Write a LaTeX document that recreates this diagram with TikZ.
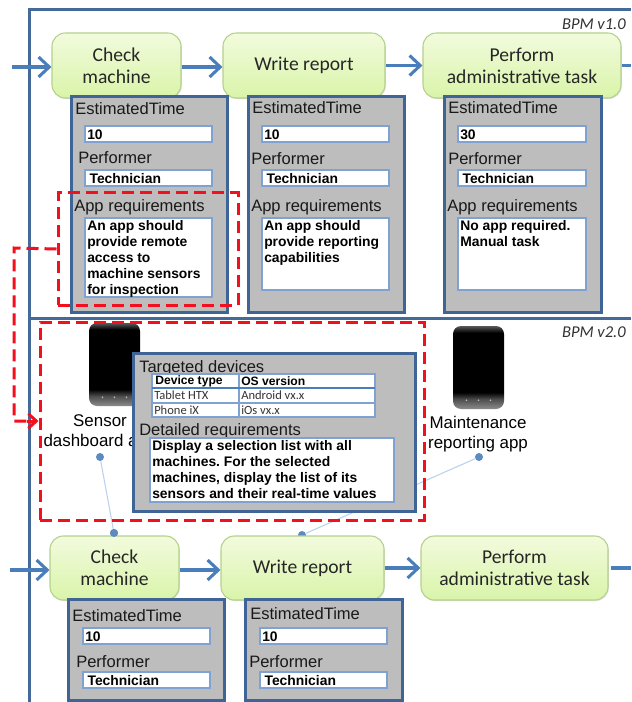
\documentclass[tikz,border=0pt]{standalone}
\usepackage{fontspec}
\setmainfont{Liberation Sans}
\newfontfamily\carl{Carlito}
\usetikzlibrary{arrows.meta,shadows}
\definecolor{flowblue}{HTML}{4A7EBB}
\definecolor{frameblue}{HTML}{446A99}
\definecolor{panelblue}{HTML}{3E6595}
\definecolor{fieldblue}{HTML}{7FA2D2}
\definecolor{panelgrey}{HTML}{BDBDBD}
\definecolor{greenline}{HTML}{B4D08C}
\definecolor{greentop}{HTML}{F2FBDD}
\definecolor{greenbot}{HTML}{D9F4A9}
\definecolor{dashred}{HTML}{F40F1E}
\definecolor{tiltblue}{HTML}{BCD2EC}
\pgfdeclareverticalshading{phonesh}{100bp}{color(0bp)=(black!45);color(25bp)=(black!45);color(31bp)=(black!70);color(35bp)=(black);color(71bp)=(black);color(75bp)=(black!65);color(100bp)=(black!65)}
\newcommand\bx[7]{%
  \pgfmathsetmacro\bxw{(#5-#3)*0.75}%
  \pgfmathsetmacro\bxh{(#6-#4)*0.75}%
  \node[#1,minimum width=\bxw pt,minimum height=\bxh pt] (#2) at ({(#3+#5)/2},{-(#4+#6)/2}) {#7};}
\newcommand\lbl[4]{\node[paneltext,anchor=base west] (#1) at (#2,-#3) {#4};}
\newcommand\val[3]{\node[fieldtext,anchor=west] (#1) at ([xshift=1.5pt,yshift=-0.5pt]#2.west) {#3};}
\newcommand\phone[3]{%
  \bx{phonebody}{#1}{#2}{#3}{#2+51}{#3+83}{}
  \foreach \k in {-12,0,12} {\fill[white!75!black] ([xshift=\k*0.75pt,yshift=9*0.75pt]#1.south) circle (0.7pt);}}
\tikzset{
  x=0.75pt,y=0.75pt,
  frameline/.style={frameblue,line width=2.25pt},
  flow/.style={flowblue,line width=2.5pt,-{Straight Barb[length=8pt,width=15pt,line width=2.3pt]}},
  stub/.style={flowblue,line width=2.5pt},
  task/.style={draw=greenline,line width=0.8pt,rounded corners=10pt,top color=greentop,bottom color=greenbot,
    inner sep=0pt,align=center,font=\carl\fontsize{14.7}{16.5}\selectfont,text=black!85,
    drop shadow={opacity=0.25,shadow xshift=0.6pt,shadow yshift=-0.8pt}},
  panel/.style={draw=panelblue,fill=panelgrey,line width=2.25pt,inner sep=0pt,outer sep=0pt},
  field/.style={draw=fieldblue,fill=white,line width=1.2pt,inner sep=0pt,outer sep=0pt,
    append after command={(\tikzlastnode.south west) edge[fieldblue,line width=2pt] (\tikzlastnode.south east)}},
  paneltext/.style={inner sep=0pt,font=\fontsize{12.4}{14}\selectfont,text=black!90},
  fieldtext/.style={inner sep=0pt,font=\bfseries\fontsize{10.4}{12}\selectfont\frenchspacing,align=left},
  redbox/.style={draw=dashred,line width=2.25pt,dash pattern=on 9pt off 4.5pt},
  redlink/.style={dashred,line width=2.25pt,dash pattern=on 9pt off 4.5pt},
  redtip/.style={-{Straight Barb[length=6pt,width=11pt,line width=2.2pt]}},
  phonebody/.style={rounded corners=6pt,shading=phonesh,inner sep=0pt},
  appname/.style={align=center,inner sep=0pt,font=\fontsize{12.7}{15}\selectfont},
  dot/.style={circle,fill=flowblue!90,minimum size=6pt,inner sep=0pt},
  assoc/.style={tiltblue,line width=0.8pt},
  version/.style={inner sep=0pt,anchor=east,font=\carl\itshape\fontsize{12.4}{14}\selectfont,text=black!80},
  cellhead/.style={inner sep=0pt,anchor=west,font=\bfseries\fontsize{9.1}{10}\selectfont},
  cell/.style={inner sep=0pt,anchor=west,font=\carl\fontsize{9.4}{10}\selectfont,text=black!80},
  tablerule/.style={fieldblue,line width=0.8pt},
  tablehead/.style={flowblue,line width=1.5pt},
}
\begin{document}
\begin{tikzpicture}
\useasboundingbox (0,0) rectangle (631,-702);
\clip (0,0) rectangle (631,-702);
\fill[white] (0,0) rectangle (631,-702);

% frames
\coordinate (frameTL) at (29,-10);
\coordinate (frameTR) at (631,-10);
\coordinate (frameBL) at (29,-702);
\coordinate (sepL) at (29,-318);
\coordinate (sepR) at (631,-318);
\draw[frameline] (frameTR) -- (frameTL) -- (frameBL);
\draw[frameline] (sepL) -- (sepR);
\node[version] (v1) at (626,-24) {BPM v1.0};
\node[version] (v2) at (626,-332) {BPM v2.0};

% top lane: tasks
\bx{task}{check1}{52}{33}{181}{98}{Check\\machine}
\bx{task}{write1}{223}{33}{385}{98}{\raisebox{-0.8pt}{Write report}}
\bx{task}{perform1}{423}{33}{621}{98}{Perform\\administrative task}
\coordinate (in1) at (12,-67);
\coordinate (out1) at (631,-65.5);
\draw[flow] (in1) -- (check1.west |- in1);
\draw[flow] (check1.east |- in1) -- (write1.west |- in1);
\draw[flow] (write1.east) -- (perform1.west);
\draw[stub] (perform1.east) -- (out1);

% top lane: panels
\bx{panel}{p1}{71}{97}{227}{312}{}
\bx{panel}{p2}{248}{97}{404}{312}{}
\bx{panel}{p3}{444}{97}{601}{312}{}

\lbl{a1}{75}{115}{EstimatedTime}
\bx{field}{a1f}{85}{126}{212}{142}{}
\val{a1v}{a1f}{10}
\lbl{b1}{78}{164}{Performer}
\bx{field}{b1f}{85}{170}{212}{186}{}
\val{b1v}{b1f}{\,Technician}
\lbl{c1}{74}{212}{App requirements}
\bx{field}{c1f}{85}{218}{212}{297}{}
\node[fieldtext,anchor=north west] (c1v) at ([xshift=1.5pt,yshift=-2pt]c1f.north west) {An app should\\provide remote\\access to\\machine sensors\\for inspection};

\lbl{a2}{252}{114}{EstimatedTime}
\bx{field}{a2f}{262}{126}{389}{142}{}
\val{a2v}{a2f}{10}
\lbl{b2}{251}{165}{Performer}
\bx{field}{b2f}{262}{170}{389}{186}{}
\val{b2v}{b2f}{\,Technician}
\lbl{c2}{251}{212}{App requirements}
\bx{field}{c2f}{262}{218}{389}{290}{}
\node[fieldtext,anchor=north west] (c2v) at ([xshift=1.5pt,yshift=-2pt]c2f.north west) {An app should\\provide reporting\\capabilities};

\lbl{a3}{448}{114}{EstimatedTime}
\bx{field}{a3f}{458}{126}{586}{142}{}
\val{a3v}{a3f}{30}
\lbl{b3}{448}{165}{Performer}
\bx{field}{b3f}{458}{170}{586}{186}{}
\val{b3v}{b3f}{\,Technician}
\lbl{c3}{447}{212}{App requirements}
\bx{field}{c3f}{458}{218}{586}{290}{}
\node[fieldtext,anchor=north west] (c3v) at ([xshift=1.5pt,yshift=-2pt]c3f.north west) {No app required.\\Manual task};

% apps
\phone{ph1}{89}{323}
\phone{ph2}{453}{326}
\node[appname] (app1) at (100,-432.5) {Sensor\\dashboard app};
\node[appname] (app2) at (478,-434) {Maintenance\\reporting app};

% associations (the second one runs behind its task)
\node[dot] (d1) at (100,-457) {};
\node[dot] (d2) at (479,-457) {};
\node[dot] (d3) at (114,-533) {};
\node[dot] (d4) at (302,-535) {};
\draw[assoc] (d1) -- (d3);
\draw[assoc] (d2) -- (d4);

% bottom lane: tasks
\bx{task}{check2}{50}{536}{179}{600}{Check\\machine}
\bx{task}{write2}{221}{536}{384}{600}{\raisebox{-0.8pt}{Write report}}
\bx{task}{perform2}{421}{536}{608}{600}{Perform\\administrative task}
\node[dot] (d3b) at (d3) {};
\coordinate (in2) at (10,-570);
\coordinate (out2) at (631,-568);
\draw[flow] (in2) -- (check2.west |- in2);
\draw[flow] (check2.east |- in2) -- (write2.west |- in2);
\draw[flow] (write2.east) -- (perform2.west);
\draw[stub] ([xshift=2pt]perform2.east |- out2) -- (out2);

% red links
\bx{redbox}{r1}{58}{193}{238}{305}{}
\bx{redbox}{r2}{40}{322}{424}{520}{}
\coordinate (bend1) at (14,-248);
\coordinate (bend2) at (14,-421);
\draw[redlink] (r1.west) -- (bend1) -- (bend2) -- ([xshift=-9pt]r2.west |- bend2);
\draw[dashred,redtip,line width=2.25pt] ([xshift=-9pt]r2.west |- bend2) -- (r2.west |- bend2);

% details panel
\bx{panel}{p0}{133}{353}{415}{511}{}
\lbl{t0}{139}{372}{Targeted devices}
\bx{field}{tb}{152}{374}{375}{417}{}
\coordinate (hl) at (152,-388);
\coordinate (hr) at (375,-388);
\coordinate (rl) at (152,-403);
\coordinate (rr) at (375,-403);
\coordinate (ct) at (239,-374);
\coordinate (cb) at (239,-417);
\draw[tablerule] (ct) -- (cb);
\draw[tablerule] (rl) -- (rr);
\draw[tablehead] (hl) -- (hr);
\node[cellhead] (h1) at (155,-381.5) {Device type};
\node[cellhead] (h2) at (241,-381.5) {OS version};
\node[cell] (r11) at (154,-395.5) {Tablet HTX};
\node[cell] (r12) at (241,-395.5) {Android vx.x};
\node[cell] (r21) at (154,-410) {Phone iX};
\node[cell] (r22) at (241,-410) {iOs vx.x};
\lbl{t1}{139}{435}{Detailed requirements}
\bx{field}{df}{150}{438}{394}{502}{}
\node[fieldtext,anchor=north west] (dv) at ([xshift=1.5pt,yshift=-1.5pt]df.north west) {Display a selection list with all\\machines. For the selected\\machines, display the list of its\\sensors and their real-time values};

% bottom lane: panels
\bx{panel}{p4}{68}{599}{224}{700}{}
\bx{panel}{p5}{245}{599}{402}{700}{}
\lbl{a4}{72}{621}{EstimatedTime}
\bx{field}{a4f}{83}{628}{210}{644}{}
\val{a4v}{a4f}{10}
\lbl{b4}{76}{667}{Performer}
\bx{field}{b4f}{83}{672}{210}{688}{}
\val{b4v}{b4f}{\,Technician}
\lbl{a5}{250}{619}{EstimatedTime}
\bx{field}{a5f}{260}{628}{387}{644}{}
\val{a5v}{a5f}{10}
\lbl{b5}{249}{667}{Performer}
\bx{field}{b5f}{260}{672}{387}{688}{}
\val{b5v}{b5f}{\,Technician}
\end{tikzpicture}
\end{document}
